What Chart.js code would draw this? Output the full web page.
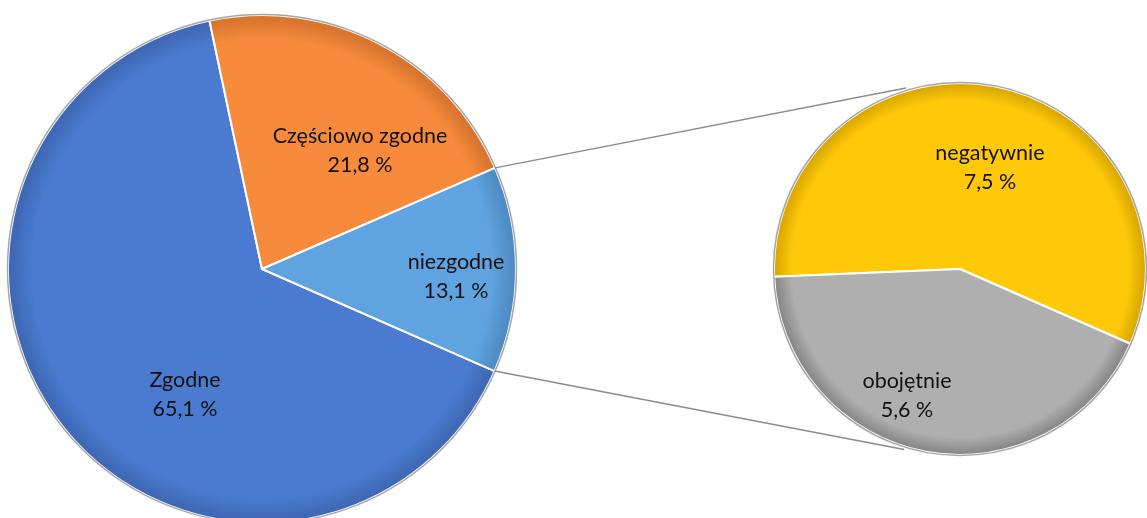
<!DOCTYPE html>
<html>
<head>
<meta charset="utf-8">
<script src="https://cdn.jsdelivr.net/npm/chart.js@4.4.1/dist/chart.umd.min.js"></script>
<style>
html,body{margin:0;padding:0;background:#ffffff;overflow:hidden;width:1147px;height:518px;}
#wrap{position:relative;width:1147px;height:518px;overflow:hidden;}
canvas{position:absolute;left:0;top:0;}
</style>
</head>
<body>
<div id="wrap">
<canvas id="mainPie" width="1147" height="560"></canvas>
<canvas id="subPie" width="1147" height="560"></canvas>
</div>
<script>
// ---- data ----
const mainLabels = ['Zgodne', 'Częściowo zgodne', 'niezgodne'];
const mainValues = [65.1, 21.8, 13.1];
const subLabels = ['negatywnie', 'obojętnie'];
const subValues = [7.5, 5.6];

// ---- styles ----
const mainColors = ['#4a7bd0', '#f78b3b', '#5fa3e0'];
const mainRims = ['#3f69b6', '#d9752e', '#4f8cc4'];
const subColors = ['#ffc90a', '#afafaf'];
const subRims = ['#dcaa00', '#8a8a8a'];
// label anchors, as fractions of the pie radius from its centre
const mainLabelAnchor = [[-0.303, 0.494], [0.386, -0.465], [0.764, 0.030]];
const subLabelAnchor = [[0.161, -0.548], [-0.285, 0.683]];
const FONT = '21.5px Lato, "Open Sans", sans-serif';

function fmt(v){ return v.toFixed(1).replace('.', ',') + ' %'; }

function gradFill(colors, rims){
  return function(ctx){
    const chart = ctx.chart;
    const a = chart.chartArea;
    const base = colors[ctx.dataIndex];
    if(!a) return base;
    const cx = (a.left + a.right)/2, cy = (a.top + a.bottom)/2;
    const r = Math.min(a.right - a.left, a.bottom - a.top)/2;
    const g = chart.ctx.createRadialGradient(cx, cy, 0, cx, cy, r);
    g.addColorStop(0, base);
    g.addColorStop(0.9, base);
    g.addColorStop(0.98, rims[ctx.dataIndex]);
    g.addColorStop(1, rims[ctx.dataIndex]);
    return g;
  };
}

function labelPlugin(labels, values, anchors){
  return {
    id: 'sliceLabels',
    afterDatasetsDraw(chart){
      const ctx = chart.ctx;
      const arcs = chart.getDatasetMeta(0).data;
      ctx.save();
      // outer rim
      const a0 = arcs[0];
      ctx.beginPath();
      ctx.arc(a0.x, a0.y, a0.outerRadius + 0.5, 0, Math.PI*2);
      ctx.strokeStyle = '#a6a6a6';
      ctx.lineWidth = 1.5;
      ctx.stroke();
      ctx.font = FONT;
      ctx.fillStyle = '#111111';
      ctx.textAlign = 'center';
      ctx.textBaseline = 'middle';
      arcs.forEach((arc, i) => {
        const x = arc.x + anchors[i][0]*arc.outerRadius;
        const y = arc.y + anchors[i][1]*arc.outerRadius;
        ctx.fillText(labels[i], x, y - 14.5);
        ctx.fillText(fmt(values[i]), x, y + 14.5);
      });
      ctx.restore();
    }
  };
}

Chart.defaults.font.family = 'Lato, "Open Sans", sans-serif';

const mainChart = new Chart(document.getElementById('mainPie'), {
  type: 'pie',
  data: {
    labels: mainLabels,
    datasets: [{
      data: mainValues,
      backgroundColor: gradFill(mainColors, mainRims),
      borderColor: '#ffffff',
      borderWidth: 2
    }]
  },
  options: {
    responsive: false,
    animation: false,
    devicePixelRatio: 1,
    rotation: 113.7,
    layout: { padding: { left: 7, top: 14, right: 630, bottom: 36 } },
    plugins: { legend: { display: false }, tooltip: { enabled: false } }
  },
  plugins: [labelPlugin(mainLabels, mainValues, mainLabelAnchor)]
});

const connectorPlugin = {
  id: 'connectors',
  beforeDatasetsDraw(chart){
    const src = mainChart.getDatasetMeta(0).data[2];
    const dst = chart.getDatasetMeta(0).data[0];
    const ctx = chart.ctx;
    const r2 = dst.outerRadius + 3;
    const pts = [
      [src.x + src.outerRadius*Math.cos(src.startAngle), src.y + src.outerRadius*Math.sin(src.startAngle),
       dst.x + r2*Math.cos(-Math.PI/2 - 0.29), dst.y + r2*Math.sin(-Math.PI/2 - 0.29)],
      [src.x + src.outerRadius*Math.cos(src.endAngle), src.y + src.outerRadius*Math.sin(src.endAngle),
       dst.x + r2*Math.cos(Math.PI/2 + 0.30), dst.y + r2*Math.sin(Math.PI/2 + 0.30)]
    ];
    ctx.save();
    ctx.strokeStyle = '#8c8c8c';
    ctx.lineWidth = 1.5;
    pts.forEach(p => {
      ctx.beginPath();
      ctx.moveTo(p[0], p[1]);
      ctx.lineTo(p[2], p[3]);
      ctx.stroke();
    });
    ctx.restore();
  }
};

const subChart = new Chart(document.getElementById('subPie'), {
  type: 'pie',
  data: {
    labels: subLabels,
    datasets: [{
      data: subValues,
      backgroundColor: gradFill(subColors, subRims),
      borderColor: '#ffffff',
      borderWidth: 2
    }]
  },
  options: {
    responsive: false,
    animation: false,
    devicePixelRatio: 1,
    rotation: -92.4,
    layout: { padding: { left: 773, top: 82, right: 0, bottom: 104 } },
    plugins: { legend: { display: false }, tooltip: { enabled: false } }
  },
  plugins: [connectorPlugin, labelPlugin(subLabels, subValues, subLabelAnchor)]
});
</script>
</body>
</html>
